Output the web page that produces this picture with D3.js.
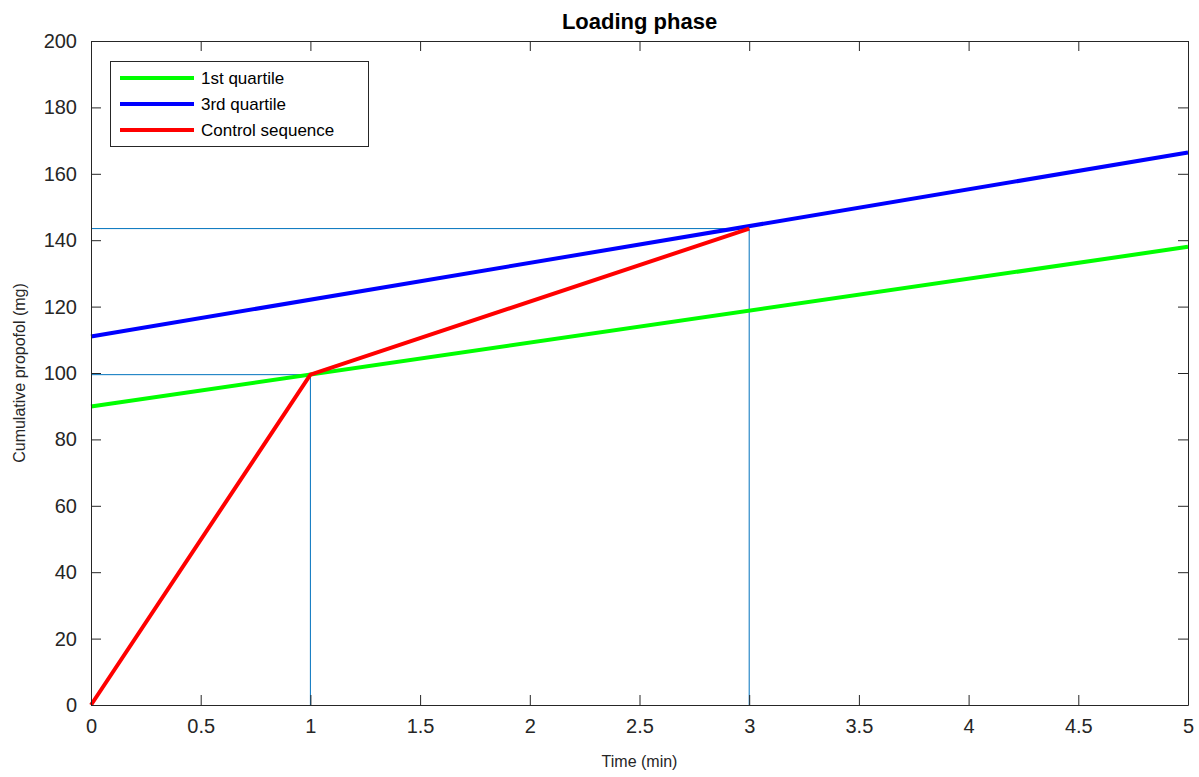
<!DOCTYPE html>
<html><head><meta charset="utf-8">
<script src="https://cdn.jsdelivr.net/npm/d3@7"></script>
<style>body{margin:0;background:#fff;}svg{display:block;font-family:"Liberation Sans",Arial,Helvetica,sans-serif;}</style>
</head><body><svg id="c" width="1199" height="777"></svg>
<script>
const xTicks = [0,0.5,1,1.5,2,2.5,3,3.5,4,4.5,5];
const yTicks = [0,20,40,60,80,100,120,140,160,180,200];
const seriesNames = ["1st quartile","3rd quartile","Control sequence"];
const seriesColors = ["#00ff00","#0000ff","#ff0000"];
const q1Time = [0,5];
const q1Dose = [89.9,138.0];
const q3Time = [0,5];
const q3Dose = [111.0,166.4];
const ctrlTime = [0,1,3];
const ctrlDose = [0,99.5,143.5];
const refTime = [1,3];
const refDose = [99.5,143.5];

const svg = d3.select("#c");
const L=91,R=1188,T=41,B=705;
const x = d3.scaleLinear().domain([0,5]).range([L,R]);
const y = d3.scaleLinear().domain([0,200]).range([B,T]);
const ax = "#262626";

// reference lines
const g = svg.append("g");
refTime.forEach((t,i)=>{
  g.append("line").attr("x1",x(0)).attr("x2",x(t)).attr("y1",y(refDose[i])).attr("y2",y(refDose[i]))
   .attr("stroke","#0072BD").attr("stroke-width",1);
  g.append("line").attr("x1",x(t)).attr("x2",x(t)).attr("y1",y(0)).attr("y2",y(refDose[i]))
   .attr("stroke","#0072BD").attr("stroke-width",1);
});

const line = d3.line().x(d=>x(d[0])).y(d=>y(d[1]));
const series = [
  d3.zip(q1Time,q1Dose),
  d3.zip(q3Time,q3Dose),
  d3.zip(ctrlTime,ctrlDose)
];
series.forEach((s,i)=>{
  svg.append("path").datum(s).attr("d",line).attr("fill","none")
    .attr("stroke",seriesColors[i]).attr("stroke-width",4);
});

// axes
const fmt = d=>String(d);
svg.append("g").attr("transform",`translate(0,${B})`)
  .call(d3.axisBottom(x).tickValues(xTicks).tickFormat(fmt).tickSizeInner(-10).tickSizeOuter(0).tickPadding(14))
  .call(a=>{a.select(".domain").attr("stroke",ax);a.selectAll("line").attr("stroke",ax);
    a.selectAll("text").attr("fill",ax).style("font-size","20px").style("font-family","Liberation Sans, Arial, sans-serif");});
svg.append("g").attr("transform",`translate(0,${T})`)
  .call(d3.axisTop(x).tickValues(xTicks).tickFormat("").tickSizeInner(-10).tickSizeOuter(0))
  .call(a=>{a.select(".domain").attr("stroke",ax);a.selectAll("line").attr("stroke",ax);});
svg.append("g").attr("transform",`translate(${L},0)`)
  .call(d3.axisLeft(y).tickValues(yTicks).tickFormat(fmt).tickSizeInner(-10).tickSizeOuter(0).tickPadding(14))
  .call(a=>{a.select(".domain").attr("stroke",ax);a.selectAll("line").attr("stroke",ax);
    a.selectAll("text").attr("fill",ax).style("font-size","20px").style("font-family","Liberation Sans, Arial, sans-serif");});
svg.append("g").attr("transform",`translate(${R},0)`)
  .call(d3.axisRight(y).tickValues(yTicks).tickFormat("").tickSizeInner(-10).tickSizeOuter(0))
  .call(a=>{a.select(".domain").attr("stroke",ax);a.selectAll("line").attr("stroke",ax);});

// titles
svg.append("text").attr("x",(L+R)/2).attr("y",29).attr("text-anchor","middle")
  .attr("font-weight","bold").attr("font-size","22px").attr("fill","#000").text("Loading phase");
svg.append("text").attr("x",(L+R)/2).attr("y",767).attr("text-anchor","middle")
  .attr("font-size","16px").attr("fill",ax).text("Time (min)");
svg.append("text").attr("transform",`translate(25,${(T+B)/2}) rotate(-90)`).attr("text-anchor","middle")
  .attr("font-size","16px").attr("fill",ax).text("Cumulative propofol (mg)");

// legend
const lg = svg.append("g");
lg.append("rect").attr("x",110.5).attr("y",61.5).attr("width",258).attr("height",85)
  .attr("fill","#fff").attr("stroke",ax).attr("stroke-width",1);
seriesNames.forEach((n,i)=>{
  const yy = 78 + i*26;
  lg.append("line").attr("x1",120).attr("x2",194).attr("y1",yy).attr("y2",yy)
    .attr("stroke",seriesColors[i]).attr("stroke-width",4);
  lg.append("text").attr("x",201).attr("y",yy+6).attr("font-size","17px").attr("fill","#000").text(n);
});
</script></body></html>
